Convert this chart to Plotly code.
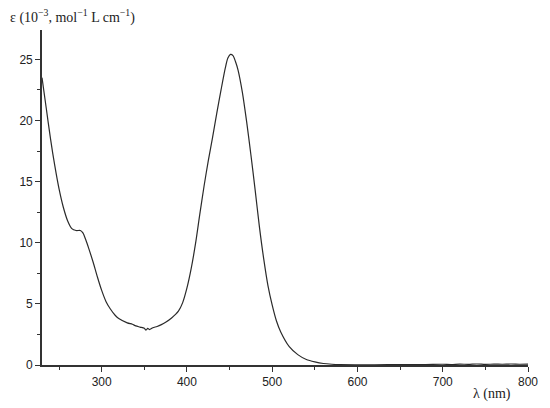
import plotly.graph_objects as go

wavelength = [230, 235, 240, 245, 250, 255, 260, 265, 270, 275, 278, 281, 285, 290, 295,
              300, 305, 310, 316, 320, 330, 336, 340, 345, 350, 352, 354, 356, 360, 365,
              370, 375, 382, 390, 395, 400, 405, 410, 415, 420, 425, 430, 435, 440, 445, 448,
              451, 454, 457, 460, 465, 470, 475, 480, 485, 490, 495, 500, 505, 510, 520,
              530, 540, 550, 560, 570, 580, 600, 620, 650, 680, 700, 710, 720, 730, 740,
              750, 760, 770, 780, 790, 800]
epsilon = [23.5, 21.0, 18.5, 16.3, 14.4, 12.9, 11.8, 11.15, 11.0, 11.0, 10.8, 10.3, 9.5, 8.4, 7.2,
           6.1, 5.2, 4.6, 4.05, 3.8, 3.45, 3.33, 3.2, 3.1, 3.0, 2.85, 3.0, 2.9, 3.05, 3.15,
           3.3, 3.5, 3.85, 4.4, 5.1, 6.3, 7.9, 9.9, 12.3, 14.6, 16.7, 18.6, 20.6, 22.5, 24.3, 25.1,
           25.4, 25.3, 24.8, 24.1, 22.3, 19.9, 17.2, 14.3, 11.3, 8.7, 6.5, 4.9, 3.6, 2.7, 1.5,
           0.85, 0.45, 0.25, 0.12, 0.06, 0.03, 0.02, 0.02, 0.03, 0.04, 0.06, 0.04, 0.07, 0.05, 0.08,
           0.05, 0.07, 0.06, 0.08, 0.06, 0.07]

x_ticks = [300, 400, 500, 600, 700, 800]
y_ticks = [0, 5, 10, 15, 20, 25]

fig = go.Figure()
fig.add_trace(go.Scatter(x=wavelength, y=epsilon, mode="lines",
                         line=dict(color="#2a2a2a", width=1.2, shape="spline", smoothing=0.8),
                         showlegend=False, hoverinfo="skip"))

tickfont = dict(family="Liberation Sans, Arial, sans-serif", size=12, color="#222")
fig.update_xaxes(range=[230, 800], tickvals=x_ticks, ticks="outside", ticklen=5, tickwidth=1.3,
                 tickcolor="#333", showline=True, linecolor="#333", linewidth=1.6,
                 showgrid=False, zeroline=False, tickfont=tickfont,
                 minor=dict(tickvals=[250, 350, 450, 550, 650, 750], ticks="outside",
                            ticklen=3, tickwidth=1.2, tickcolor="#333"))
fig.update_yaxes(range=[0, 27.4], tickvals=y_ticks, ticks="outside", ticklen=5, tickwidth=1.3,
                 tickcolor="#333", showline=True, linecolor="#333", linewidth=1.6,
                 showgrid=False, zeroline=False, tickfont=tickfont,
                 minor=dict(tickvals=[2.5, 7.5, 12.5, 17.5, 22.5], ticks="outside",
                            ticklen=3, tickwidth=1.2, tickcolor="#333"))

titlefont = dict(family="Liberation Serif, Times New Roman, serif", size=14, color="#222")
fig.add_annotation(text="ε (10<sup>−3</sup>, mol<sup>−1</sup> L cm<sup>−1</sup>)",
                   xref="paper", yref="paper", x=-0.07, y=1.0, yshift=14,
                   xanchor="left", yanchor="middle", showarrow=False, font=titlefont)
fig.add_annotation(text="λ (nm)", xref="paper", yref="paper", x=0.925, y=0, yshift=-29,
                   xanchor="center", yanchor="middle", showarrow=False, font=titlefont)

fig.update_layout(width=550, height=408, margin=dict(l=42, r=15, t=30, b=43),
                  plot_bgcolor="white", paper_bgcolor="white")
fig.write_html("out.html", config={"displayModeBar": False},
               post_script="document.body.style.margin='0';document.documentElement.style.overflow='hidden';document.body.style.overflow='hidden';")
